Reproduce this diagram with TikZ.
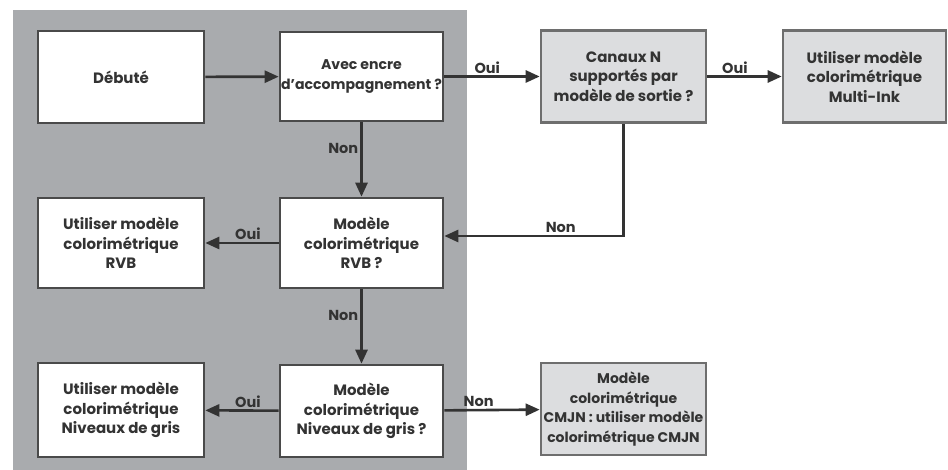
\documentclass[tikz,border=0pt]{standalone}
\usepackage{fontspec}
\setmainfont{Poppins}
\usetikzlibrary{arrows.meta,calc}
\definecolor{panel}{HTML}{A9ABAE}
\definecolor{lightbox}{HTML}{DCDDDF}
\definecolor{edge}{HTML}{4A4A4A}
\definecolor{ink}{HTML}{333333}
\begin{document}
\begin{tikzpicture}[x=1pt,y=-1pt,
  box/.style={draw=edge,line width=2.6pt,fill=white,align=center,inner sep=0pt,
    font=\bfseries\fontsize{15}{19.5}\selectfont,text=ink},
  wbox/.style={box,minimum width=163pt,minimum height=90pt},
  gbox/.style={box,fill=lightbox,draw=edge!80,minimum width=165pt,minimum height=92pt},
  conn/.style={draw=ink,line width=2.6pt,-{Triangle[length=14pt,width=12pt]}},
  lab/.style={font=\bfseries\fontsize{14.5}{16}\selectfont,text=ink,inner sep=2pt}]
\useasboundingbox (0,0) rectangle (948,470);
\fill[white] (0,0) rectangle (948,470);
\fill[panel] (13,10) rectangle (467,470);

\node[wbox,minimum width=166pt,minimum height=92pt] (deb) at (121,77) {Débuté};
\node[wbox,minimum height=89pt,font=\bfseries\fontsize{14.1}{19.5}\selectfont] (avec) at (361.5,76.5) {Avec encre\\d'accompagnement ?};
\node[gbox] (canaux) at (623.5,76.5) {Canaux N\\supportés par\\modèle de sortie ?};
\node[gbox,minimum width=163pt] (multi) at (864.5,76.5) {Utiliser modèle\\colorimétrique\\Multi-Ink};
\node[wbox,minimum width=166pt] (urvb) at (121,243) {Utiliser modèle\\colorimétrique\\RVB};
\node[wbox] (mrvb) at (361.5,243) {Modèle\\colorimétrique\\RVB ?};
\node[wbox,minimum width=166pt,minimum height=94pt] (ugris) at (121,410) {Utiliser modèle\\colorimétrique\\Niveaux de gris};
\node[wbox,minimum height=92pt] (mgris) at (361.5,411) {Modèle\\colorimétrique\\Niveaux de gris ?};
\node[gbox,font=\bfseries\fontsize{14}{19.5}\selectfont] (cmjn) at (623.5,409) {Modèle\\colorimétrique\\CMJN : utiliser modèle\\colorimétrique CMJN};

\draw[conn] (deb) -- (avec);
\draw[conn] (avec) -- node[lab,above,pos=0.45] (l1) {Oui} (canaux);
\draw[conn] (canaux) -- node[lab,above,pos=0.37] (l2) {Oui} (multi);
\draw[conn] (avec) -- node[lab,left,pos=0.35] (l3) {Non} (mrvb);
\draw[conn] (canaux.south) |- node[lab,above,pos=0.675] (l4) {Non} ([yshift=7pt]mrvb.east);
\draw[conn] (mrvb) -- node[lab,above,pos=0.42] (l5) {Oui} (urvb);
\draw[conn] (mrvb) -- node[lab,left,pos=0.35] (l6) {Non} (mgris);
\draw[conn] (mgris) -- node[lab,above,pos=0.42] (l7) {Oui} (ugris);
\draw[conn] (mgris) -- node[lab,above,pos=0.36] (l8) {Non} (cmjn);
\end{tikzpicture}
\end{document}
